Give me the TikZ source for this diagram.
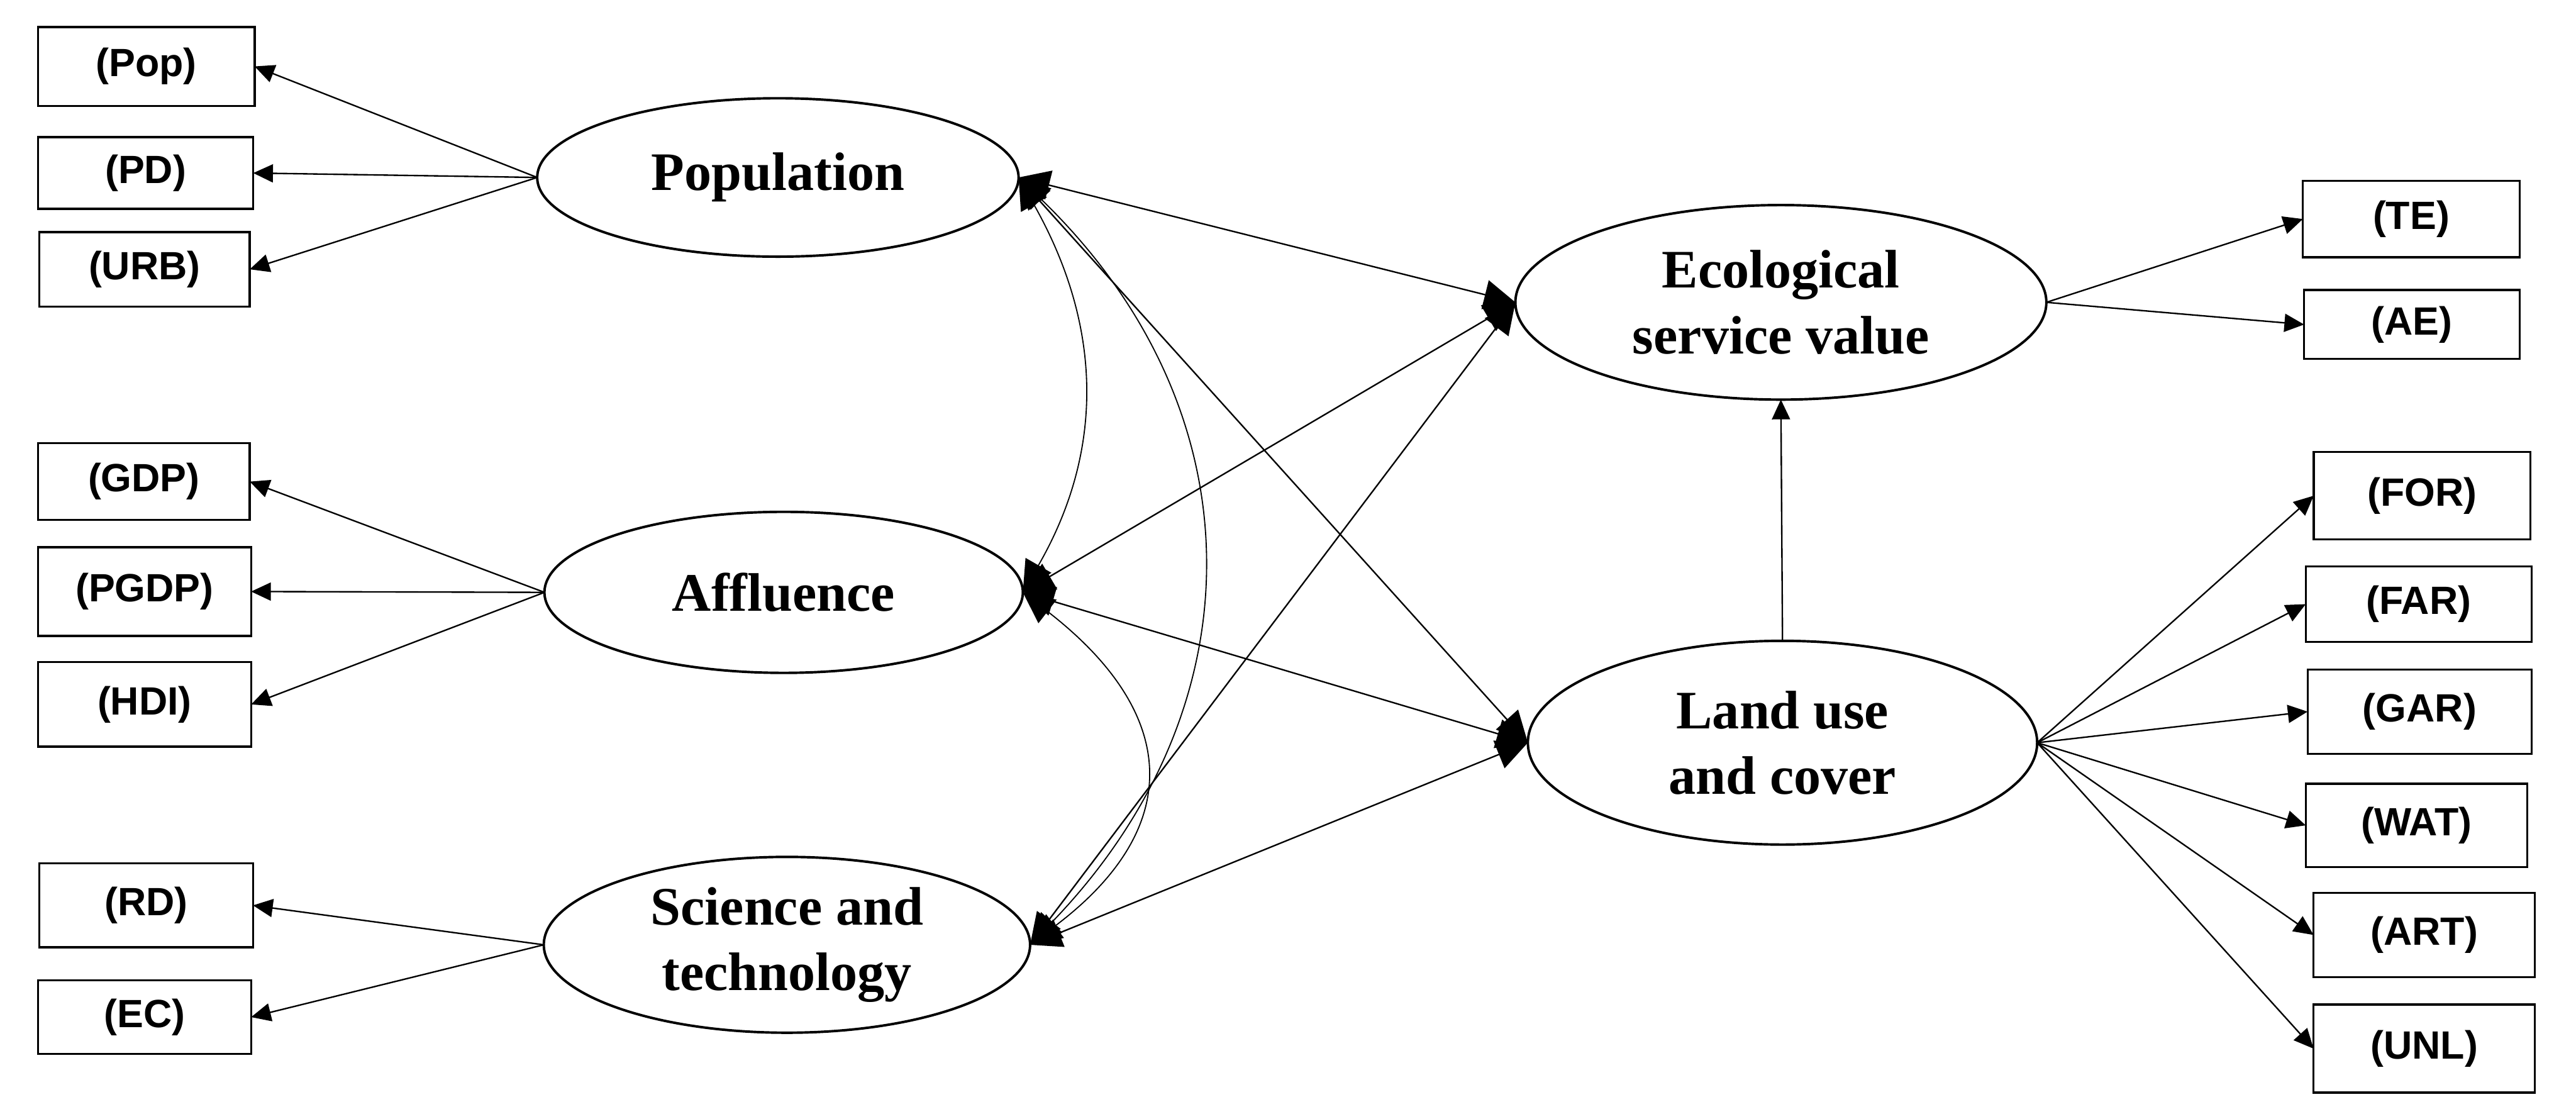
\documentclass[tikz,border=0pt]{standalone}
\usepackage{fontspec}
\setmainfont{Liberation Serif}
\newfontfamily\boxfont{Liberation Sans}
\usetikzlibrary{shapes.geometric,arrows.meta,calc}
\begin{document}
\begin{tikzpicture}[x=1pt,y=-1pt,
  obs/.style={draw,line width=1.3pt,inner sep=0pt,outer sep=0pt,
    font=\boxfont\bfseries\fontsize{24}{28}\selectfont},
  lat/.style={draw,ellipse,line width=1.5pt,inner sep=0pt,outer sep=0pt,
    align=center,font=\bfseries\fontsize{33}{40}\selectfont},
  ld/.style={line width=0.9pt,-{Triangle[length=12pt,width=11pt]}},
  cov/.style={line width=0.9pt,{Triangle[length=19pt,width=18pt]}-{Triangle[length=19pt,width=18pt]}},
  cur/.style={line width=0.7pt,{Triangle[length=19pt,width=18pt]}-{Triangle[length=19pt,width=18pt]}},
]
\useasboundingbox (0,0) rectangle (1568,681);
\fill[white] (0,0) rectangle (1568,681);

% latent variables
\node[lat,minimum width=293pt,minimum height=96.4pt] (pop) at (473.5,108) {Population};
\node[lat,minimum width=291.2pt,minimum height=98pt] (aff) at (477,360.5) {Affluence};
\node[lat,minimum width=296pt,minimum height=107pt] (sci) at (479,575) {Science and\\technology};
\node[lat,minimum width=323.2pt,minimum height=118.4pt] (eco) at (1084,184) {Ecological\\service value};
\node[lat,minimum width=310pt,minimum height=124pt] (land) at (1085,452) {Land use\\and cover};

% left indicators
\node[obs,minimum width=131.8pt,minimum height=48pt] (Pop) at (89.1,40.4) {(Pop)};
\node[obs,minimum width=130.9pt,minimum height=43.7pt] (PD) at (88.7,105.3) {(PD)};
\node[obs,minimum width=128pt,minimum height=45.3pt] (URB) at (88,163.9) {(URB)};
\node[obs,minimum width=128.8pt,minimum height=46.8pt] (GDP) at (87.6,293.1) {(GDP)};
\node[obs,minimum width=129.7pt,minimum height=54pt] (PGDP) at (88,360) {(PGDP)};
\node[obs,minimum width=129.7pt,minimum height=51.4pt] (HDI) at (88,428.7) {(HDI)};
\node[obs,minimum width=130pt,minimum height=51pt] (RD) at (89,551) {(RD)};
\node[obs,minimum width=129.7pt,minimum height=44.7pt] (EC) at (88,619) {(EC)};

% right indicators
\node[obs,minimum width=131.9pt,minimum height=46.4pt] (TE) at (1467.7,133.3) {(TE)};
\node[obs,minimum width=131.2pt,minimum height=42pt] (AE) at (1468.1,197.5) {(AE)};
\node[obs,minimum width=132pt,minimum height=53.3pt] (FOR) at (1474.3,301.7) {(FOR)};
\node[obs,minimum width=137.5pt,minimum height=46pt] (FAR) at (1472.2,367.7) {(FAR)};
\node[obs,minimum width=136.4pt,minimum height=51.4pt] (GAR) at (1472.8,433.1) {(GAR)};
\node[obs,minimum width=134.8pt,minimum height=50.8pt] (WAT) at (1470.9,502.3) {(WAT)};
\node[obs,minimum width=134.7pt,minimum height=51.3pt] (ART) at (1475.6,569) {(ART)};
\node[obs,minimum width=134.7pt,minimum height=53.6pt] (UNL) at (1475.6,638.2) {(UNL)};

% loadings
\foreach \b in {Pop,PD,URB} \draw[ld] (pop.west) -- (\b.east);
\foreach \b in {GDP,PGDP,HDI} \draw[ld] (aff.west) -- (\b.east);
\foreach \b in {RD,EC} \draw[ld] (sci.west) -- (\b.east);
\foreach \b in {TE,AE} \draw[ld] (eco.east) -- (\b.west);
\foreach \b in {FOR,FAR,GAR,WAT,ART,UNL} \draw[ld] (land.east) -- (\b.west);
\draw[ld] (land.north) -- (eco.south);

% structural paths
\foreach \a in {pop,aff,sci} {
  \draw[cov] (\a.east) -- (eco.west);
  \draw[cov] (\a.east) -- (land.west);
}

% covariances
\draw[cur] (pop.east) .. controls ($(pop.east)+(52,92)$) and ($(aff.east)+(49,-85)$) .. (aff.east);
\draw[cur] (pop.east) .. controls ($(pop.east)+(147,142)$) and ($(sci.east)+(140,-145)$) .. (sci.east);
\draw[cur] (aff.east) .. controls ($(aff.east)+(97,75)$) and ($(sci.east)+(93,-70)$) .. (sci.east);
\end{tikzpicture}
\end{document}
